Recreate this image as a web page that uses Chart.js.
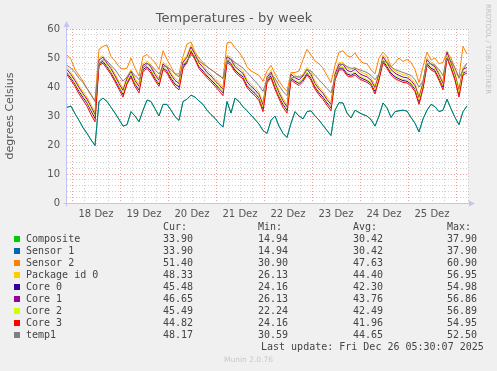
<!DOCTYPE html>
<html><head><meta charset="utf-8">
<script src="https://cdn.jsdelivr.net/npm/chart.js@4/dist/chart.umd.min.js"></script>
<style>
html,body{margin:0;padding:0;background:#f0f0f0;}
#wrap{position:relative;width:497px;height:371px;overflow:hidden;background:#f0f0f0;}
#c{position:absolute;left:0;top:0;}
.t{position:absolute;white-space:pre;font-family:"DejaVu Sans Mono",monospace;font-size:10px;color:#444;line-height:12px;height:12px;}
.sw{position:absolute;width:6px;height:6px;}
#rrd{position:absolute;left:483px;top:4px;writing-mode:vertical-rl;font-family:"DejaVu Sans",sans-serif;font-size:7px;line-height:9px;color:#c0c0c0;white-space:nowrap;}
#munin{position:absolute;left:0;width:497px;top:355px;text-align:center;font-family:"DejaVu Sans",sans-serif;font-size:7.5px;line-height:10px;color:#c8c8c8;}
</style></head>
<body>
<div id="wrap">
<canvas id="c" width="497" height="371"></canvas>
<div id="rrd">RRDTOOL / TOBI OETIKER</div>
<div id="legend"></div>
<div id="munin">Munin 2.0.76</div>
</div>
<script>
// ---- data (hours since 18 Dez 00:00, one sample every 2 h) ----
const dayLabels = ['18 Dez','19 Dez','20 Dez','21 Dez','22 Dez','23 Dez','24 Dez','25 Dez'];
const hours = Array.from({length: 101}, (_, i) => -2.5 + 2 * i);

const sensor1 = [33.0,33.4,30.8,28.5,26.0,24.0,21.8,19.8,35.0,36.2,
 35.0,33.0,31.0,28.8,26.5,27.0,31.5,30.0,28.0,32.0,
 35.5,35.0,32.5,30.0,34.0,34.0,32.0,29.8,28.5,35.0,
 35.8,37.2,36.5,35.2,34.0,32.0,30.5,29.2,27.5,26.2,
 35.0,31.0,36.2,35.0,33.2,31.8,30.3,28.8,27.2,25.0,
 24.0,28.5,30.0,26.5,24.0,22.6,27.5,31.5,30.0,29.0,
 31.5,31.8,30.0,28.6,26.8,25.0,23.3,32.0,34.6,34.5,
 31.0,29.3,32.0,31.2,30.5,30.0,28.8,26.5,30.0,34.5,
 32.8,29.5,31.5,31.8,32.0,31.7,29.5,27.5,24.5,29.0,
 32.0,34.0,33.2,31.5,32.0,35.8,32.5,29.5,27.0,31.5,33.5];
const composite = [33.0,33.4,30.8,28.5,26.0,24.0,21.8,19.8,35.0,36.2,
 35.0,33.0,31.0,28.8,26.5,27.0,31.5,30.0,28.0,32.0,
 35.5,35.0,32.5,30.0,34.0,34.0,32.0,29.8,28.5,35.0,
 35.8,37.2,36.5,35.2,34.0,32.0,30.5,29.2,27.5,26.2,
 35.0,31.0,36.2,35.0,33.2,31.8,30.3,28.8,27.2,25.0,
 24.0,28.5,30.0,26.5,24.0,22.6,27.5,31.5,30.0,29.0,
 31.5,31.8,30.0,28.6,26.8,25.0,23.3,32.0,34.6,34.5,
 31.0,29.3,32.0,31.2,30.5,30.0,28.8,26.5,30.0,34.5,
 32.8,29.5,31.5,31.8,32.0,31.7,29.5,27.5,24.5,29.0,
 32.0,34.0,33.2,31.5,32.0,35.8,32.5,29.5,27.0,31.5,33.5];
const sensor2 = [51.0,49.5,46.0,44.0,42.0,39.5,37.2,35.0,53.0,54.0,
 54.5,50.5,49.0,47.0,46.2,46.5,50.0,46.5,43.8,50.5,
 51.2,49.8,48.5,46.0,52.5,49.5,47.0,44.5,44.5,50.5,
 54.8,55.5,52.0,50.0,48.5,47.0,46.0,45.0,44.0,42.8,
 55.2,55.5,53.5,52.0,50.0,47.0,45.5,44.8,44.0,42.0,
 45.5,47.5,44.5,42.0,40.0,38.5,45.0,45.0,45.5,49.5,
 53.0,51.0,49.0,48.0,46.5,44.0,41.5,47.5,52.0,52.5,
 50.8,50.3,51.8,49.5,48.3,48.0,46.0,44.5,50.0,52.0,
 50.5,47.0,48.3,50.0,48.8,49.5,48.5,46.0,41.5,47.0,
 52.0,49.3,50.0,48.0,48.5,52.0,50.0,46.5,43.4,54.0,51.4];
const package0 = [46.8,45.0,43.0,40.5,38.5,36.5,34.0,31.5,50.0,50.8,
 49.0,47.0,44.5,42.0,39.5,43.5,46.0,43.0,41.0,48.0,
 49.0,47.5,45.0,43.0,48.5,47.5,45.0,43.0,42.0,49.0,
 51.0,54.5,52.0,49.0,47.5,45.8,44.5,43.0,41.5,40.0,
 51.0,50.2,47.8,46.5,45.5,42.5,41.0,39.8,38.2,34.5,
 44.0,45.8,42.0,38.8,36.0,34.0,45.0,44.0,43.2,44.5,
 46.8,45.0,42.0,40.0,38.5,36.5,34.8,45.0,48.5,48.5,
 46.5,46.0,46.8,45.5,44.8,44.2,43.2,40.5,45.0,51.0,
 49.0,46.8,45.5,44.8,44.2,44.0,43.0,41.2,37.0,42.0,
 50.0,48.5,47.8,45.0,42.0,52.5,49.0,45.0,39.5,46.8,48.3];
const core0 = [44.8,43.0,41.0,38.5,36.4,34.5,31.8,29.2,48.0,48.8,
 47.0,45.0,42.5,40.0,37.4,41.5,44.0,41.0,39.0,46.0,
 47.0,45.5,43.0,41.0,46.5,45.5,43.0,41.0,40.0,47.0,
 49.0,52.5,50.0,47.0,45.5,43.8,42.5,41.0,39.5,38.0,
 49.0,48.2,45.8,44.5,43.5,40.5,39.0,37.8,36.2,32.5,
 42.0,43.8,40.0,36.8,34.0,32.0,43.0,42.0,41.2,42.5,
 44.8,43.0,40.0,38.0,36.5,34.5,32.8,43.0,46.5,46.5,
 44.5,44.0,44.8,43.5,42.8,42.2,41.2,38.5,43.0,49.0,
 47.0,44.8,43.5,42.8,42.2,42.0,41.0,39.2,35.0,40.0,
 48.0,46.5,45.8,43.0,40.0,50.5,47.0,43.0,37.5,44.8,45.5];
const core1 = [46.0,44.3,42.2,39.8,37.7,35.8,33.2,30.5,49.3,50.3,
 48.2,46.3,43.8,41.2,38.8,42.8,45.4,42.2,40.2,47.5,
 48.3,46.8,44.3,42.3,47.9,46.8,44.2,42.3,41.2,48.5,
 50.3,53.8,51.3,48.3,46.8,45.0,43.8,42.2,40.8,39.2,
 50.4,49.5,47.0,45.8,44.7,41.8,40.2,39.0,37.4,33.8,
 43.3,45.1,41.3,38.0,35.2,33.2,44.4,43.2,42.5,43.8,
 46.1,44.3,41.2,39.3,37.8,35.7,34.0,44.3,47.9,47.8,
 45.8,45.2,46.1,44.8,44.0,43.5,42.4,39.7,44.3,50.4,
 48.3,46.0,44.8,44.0,43.4,43.2,42.2,40.5,36.2,41.3,
 49.4,47.8,47.0,44.2,41.2,52.0,48.2,44.2,38.7,46.1,46.7];
const core2 = [45.2,43.5,41.4,39.0,37.0,35.0,32.4,29.8,48.4,49.4,
 47.5,45.4,43.0,40.4,37.9,42.0,44.6,41.4,39.5,46.6,
 47.5,45.9,43.5,41.4,47.0,46.0,43.5,41.5,40.4,47.6,
 49.4,53.0,50.5,47.5,45.9,44.3,43.0,41.5,40.0,38.4,
 49.6,48.6,46.3,45.0,44.0,41.0,39.5,38.3,36.6,33.0,
 42.5,44.3,40.5,37.2,34.5,32.5,43.5,42.5,41.7,43.0,
 45.2,43.5,40.5,38.5,37.0,35.0,33.2,43.5,47.0,47.0,
 45.0,44.5,45.3,44.0,43.3,42.6,41.6,39.0,43.5,49.5,
 47.5,45.3,44.0,43.3,42.6,42.5,41.5,39.7,35.5,40.5,
 48.5,47.0,46.3,43.5,40.5,51.0,47.5,43.5,38.0,45.3,45.5];
const core3 = [44.2,42.3,40.2,37.6,35.5,33.4,30.5,28.0,47.5,48.2,
 46.3,44.3,41.8,39.2,36.5,41.0,43.4,40.2,38.0,45.4,
 46.4,44.8,42.3,40.2,46.0,44.8,42.3,40.2,39.0,46.5,
 48.4,52.0,49.4,46.4,44.8,43.2,41.8,40.3,38.7,37.0,
 48.4,47.5,45.2,43.9,42.8,39.8,38.2,37.0,35.3,31.5,
 41.5,43.2,39.2,36.0,33.0,31.0,42.4,41.4,40.5,41.9,
 44.2,42.4,39.3,37.3,35.7,33.7,31.8,42.4,45.9,45.9,
 43.9,43.4,44.2,42.9,42.2,41.6,40.6,37.6,42.4,48.4,
 46.4,44.2,42.9,42.2,41.6,41.4,40.3,38.4,34.0,39.3,
 47.4,45.9,45.2,42.3,39.0,50.0,46.4,42.3,36.5,44.2,44.8];
const temp1 = [47.5,46.5,45.0,43.0,41.5,39.5,37.5,35.0,48.0,49.5,
 49.0,47.5,46.0,44.0,42.0,43.5,45.5,44.0,42.5,46.5,
 48.0,47.5,46.0,44.5,47.0,47.0,46.0,44.5,43.5,47.5,
 49.0,51.0,50.5,49.0,48.0,47.0,46.0,45.0,44.0,43.0,
 49.0,49.5,48.5,47.5,46.5,45.0,43.5,42.0,40.5,38.5,
 42.5,44.5,43.0,40.5,38.5,37.0,43.0,43.5,43.5,44.0,
 46.0,45.5,44.0,42.5,41.0,39.5,38.0,43.0,47.0,48.0,
 47.0,46.5,46.5,46.0,45.5,45.0,44.0,42.5,44.5,49.0,
 48.5,47.0,46.0,45.5,45.0,44.5,44.0,42.5,40.0,42.0,
 48.0,48.0,47.5,46.0,44.0,50.0,49.0,46.5,43.0,46.0,48.2];

const seriesNames = ['Composite','Sensor 1','Sensor 2','Package id 0','Core 0','Core 1','Core 2','Core 3','temp1'];
const seriesColors = ['#00cc00','#0066b3','#ff8000','#ffcc00','#330099','#990099','#ccff00','#ff0000','#808080'];
const lineColors = ['#00cc00','rgba(0,102,179,0.85)','#ff8000','#ffcc00','#330099','#990099','#ccff00','#ff0000','#808080'];
const seriesData = [composite, sensor1, sensor2, package0, core0, core1, core2, core3, temp1];
const curVals = ['33.90','33.90','51.40','48.33','45.48','46.65','45.49','44.82','48.17'];
const minVals = ['14.94','14.94','30.90','26.13','24.16','26.13','22.24','24.16','30.59'];
const avgVals = ['30.42','30.42','47.63','44.40','42.30','43.76','42.49','41.96','44.65'];
const maxVals = ['37.90','37.90','60.90','56.95','54.98','56.86','56.89','54.95','52.50'];
const lastUpdate = 'Last update: Fri Dec 26 05:30:07 2025';

// ---- legend table (HTML text) ----
const lg = document.getElementById('legend');
function addText(txt, left, top) {
  const d = document.createElement('div');
  d.className = 't'; d.textContent = txt;
  d.style.left = left + 'px'; d.style.top = top + 'px';
  lg.appendChild(d);
}
const colX = [163, 258, 353, 447];
['Cur:','Min:','Avg:','Max:'].forEach((h, k) => addText(h, colX[k], 221));
seriesNames.forEach((n, i) => {
  const top = 233 + 12 * i;
  const sw = document.createElement('div');
  sw.className = 'sw'; sw.style.left = '14px'; sw.style.top = (top + 3) + 'px';
  sw.style.background = seriesColors[i];
  lg.appendChild(sw);
  addText(n, 26, top);
  [curVals, minVals, avgVals, maxVals].forEach((arr, k) => addText(arr[i], colX[k], top));
});
addText(lastUpdate, 261, 341);

// ---- chart ----
const MAJOR = 'rgba(225,120,120,0.7)';
const MINOR = 'rgba(170,170,170,0.55)';

const plotBg = {
  id: 'plotBg',
  beforeDraw(chart) {
    const {ctx, chartArea: a} = chart;
    ctx.save();
    ctx.fillStyle = '#f0f0f0';
    ctx.fillRect(0, 0, chart.width, chart.height);
    ctx.fillStyle = '#ffffff';
    ctx.fillRect(a.left, a.top, a.right - a.left, a.bottom - a.top);
    ctx.restore();
  }
};
const axes = {
  id: 'axesArrows',
  afterDraw(chart) {
    const {ctx, chartArea: a} = chart;
    ctx.save();
    ctx.strokeStyle = '#c4c4f4';
    ctx.fillStyle = '#c4c4f4';
    ctx.lineWidth = 1;
    const x0 = Math.round(a.left) - 0.5, y0 = Math.round(a.bottom) + 0.5;
    ctx.beginPath();
    ctx.moveTo(x0, y0 + 3); ctx.lineTo(x0, a.top - 4);
    ctx.moveTo(x0 - 3, y0); ctx.lineTo(a.right + 3, y0);
    ctx.stroke();
    ctx.beginPath();
    ctx.moveTo(x0 - 3, a.top - 2); ctx.lineTo(x0 + 3, a.top - 2); ctx.lineTo(x0, a.top - 8); ctx.closePath();
    ctx.fill();
    ctx.beginPath();
    ctx.moveTo(a.right + 1, y0 - 3); ctx.lineTo(a.right + 1, y0 + 3); ctx.lineTo(a.right + 7, y0); ctx.closePath();
    ctx.fill();
    ctx.restore();
  }
};

const datasets = seriesNames.map((n, i) => ({
  label: n,
  data: seriesData[i].map((v, k) => ({x: hours[k], y: v})),
  borderColor: lineColors[i],
  backgroundColor: seriesColors[i],
  borderWidth: 1,
  pointRadius: 0,
  tension: 0,
  fill: false,
  order: seriesNames.length - i
}));

new Chart(document.getElementById('c'), {
  type: 'line',
  data: {datasets},
  plugins: [plotBg, axes],
  options: {
    responsive: false,
    animation: false,
    events: [],
    layout: {padding: {left: 0, right: 29, top: 0, bottom: 0}},
    plugins: {
      legend: {display: false},
      tooltip: {enabled: false},
      title: {
        display: true,
        text: 'Temperatures - by week',
        color: '#555',
        font: {family: 'DejaVu Sans', size: 13, weight: 'normal'},
        padding: {top: 11, bottom: 2.4}
      }
    },
    scales: {
      x: {
        type: 'linear',
        min: -2.5,
        max: 198,
        afterFit(scale) { scale.height = 168; },
        afterBuildTicks(scale) {
          const t = [];
          for (let v = 0; v <= 198; v += 6) t.push({value: v});
          scale.ticks = t;
        },
        ticks: {
          autoSkip: false, maxRotation: 0, minRotation: 0, padding: 5,
          color: '#555',
          font: {family: 'DejaVu Sans', size: 10},
          callback: (v) => ((v - 12) % 24 === 0 && (v - 12) / 24 < dayLabels.length) ? dayLabels[(v - 12) / 24] : ''
        },
        grid: {
          drawTicks: false,
          lineWidth: 1,
          color: (c) => (c.tick && c.tick.value % 24 === 0) ? MAJOR : MINOR
        },
        border: {display: false, dash: [1, 2]}
      },
      y: {
        min: 0,
        max: 60,
        afterFit(scale) { scale.width = 67; },
        ticks: {
          stepSize: 2, autoSkip: false, padding: 7,
          color: '#555',
          font: {family: 'DejaVu Sans', size: 10},
          callback: (v) => (v % 10 === 0) ? String(v) : ''
        },
        grid: {
          drawTicks: false,
          lineWidth: 1,
          color: (c) => (c.tick && c.tick.value % 10 === 0) ? MAJOR : MINOR
        },
        border: {display: false, dash: [1, 2]},
        title: {
          display: true,
          text: 'degrees Celsius',
          color: '#555',
          font: {family: 'DejaVu Sans', size: 11, weight: 'normal'},
          padding: {top: 4, bottom: 0}
        }
      }
    }
  }
});
</script>
</body></html>
